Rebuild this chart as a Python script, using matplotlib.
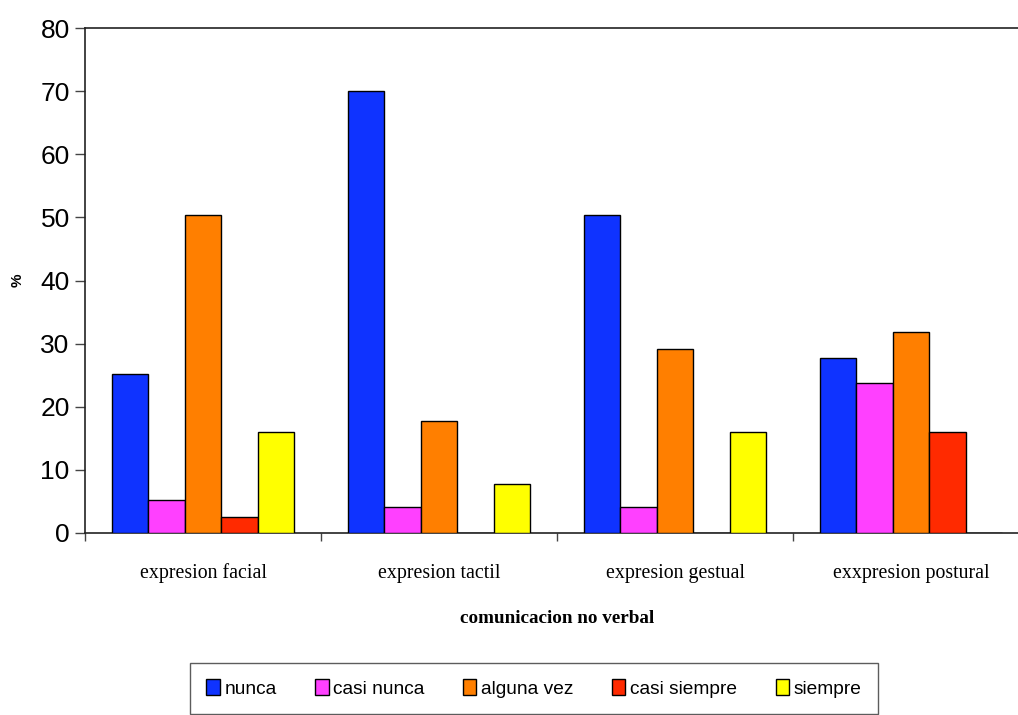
import matplotlib
matplotlib.use("Agg")
import matplotlib.pyplot as plt
import numpy as np

categories = ["expresion facial", "expresion tactil", "expresion gestual", "exxpresion postural"]
series_names = ["nunca", "casi nunca", "alguna vez", "casi siempre", "siempre"]
nunca = [25.2, 70.0, 50.3, 27.8]
casi_nunca = [5.2, 4.1, 4.1, 23.8]
alguna_vez = [50.3, 17.7, 29.2, 31.8]
casi_siempre = [2.5, 0.0, 0.0, 16.0]
siempre = [16.0, 7.7, 16.0, 0.0]
colors = ["#0F33FF", "#FF40FF", "#FF7F00", "#FF2A00", "#FFFF00"]
yticks = [0, 10, 20, 30, 40, 50, 60, 70, 80]

values = [nunca, casi_nunca, alguna_vez, casi_siempre, siempre]

fig = plt.figure(figsize=(10.18, 7.15), dpi=100)
ax = fig.add_axes([85 / 1018, 1 - 533 / 715, 944 / 1018, 505 / 715])

n = len(series_names)
group = 0.77
w = group / n
x = np.arange(len(categories))
for i, (name, vals, c) in enumerate(zip(series_names, values, colors)):
    pos = x - group / 2 + w * (i + 0.5)
    ax.bar(pos, vals, width=w, color=c, edgecolor="black", linewidth=1.0,
           label=name, zorder=3)

ax.set_xlim(-0.5, len(categories) - 0.5)
ax.set_ylim(0, 80)
ax.set_yticks(yticks)
ax.set_yticklabels([str(t) for t in yticks], fontsize=19, family="Liberation Sans")
ax.tick_params(axis="y", direction="out", length=7, width=1, color="#444444", pad=4)

ax.set_xticks(np.arange(len(categories) + 1) - 0.5)
ax.set_xticklabels([])
ax.tick_params(axis="x", which="major", direction="out", length=6, width=1, color="#444444")
ax.set_xticks(x, minor=True)
ax.set_xticklabels(categories, minor=True, fontsize=14.3, family="Liberation Serif")
ax.tick_params(axis="x", which="minor", length=0, pad=22)

for s in ["top", "bottom", "left"]:
    ax.spines[s].set_color("#222222")
    ax.spines[s].set_linewidth(1.2)
ax.spines["right"].set_visible(False)

ax.set_xlabel("comunicacion no verbal", fontsize=13.8, fontweight="bold",
              family="Liberation Serif", labelpad=19)
fig.text(18 / 1018, 1 - 280 / 715, "%", rotation=90, fontsize=11, fontweight="bold",
         family="Liberation Sans", ha="center", va="center")

leg = fig.legend(loc="upper left", bbox_to_anchor=(190 / 1018, 1 - 663 / 715),
                 ncol=5, frameon=True, fancybox=False, edgecolor="#333333",
                 prop={"family": "Liberation Sans", "size": 13.8},
                 handlelength=0.7, handleheight=0.9, handletextpad=0.25,
                 columnspacing=2.0, borderpad=0.85, borderaxespad=0)
leg.get_frame().set_linewidth(1.0)

fig.savefig("out.png", dpi=100)
